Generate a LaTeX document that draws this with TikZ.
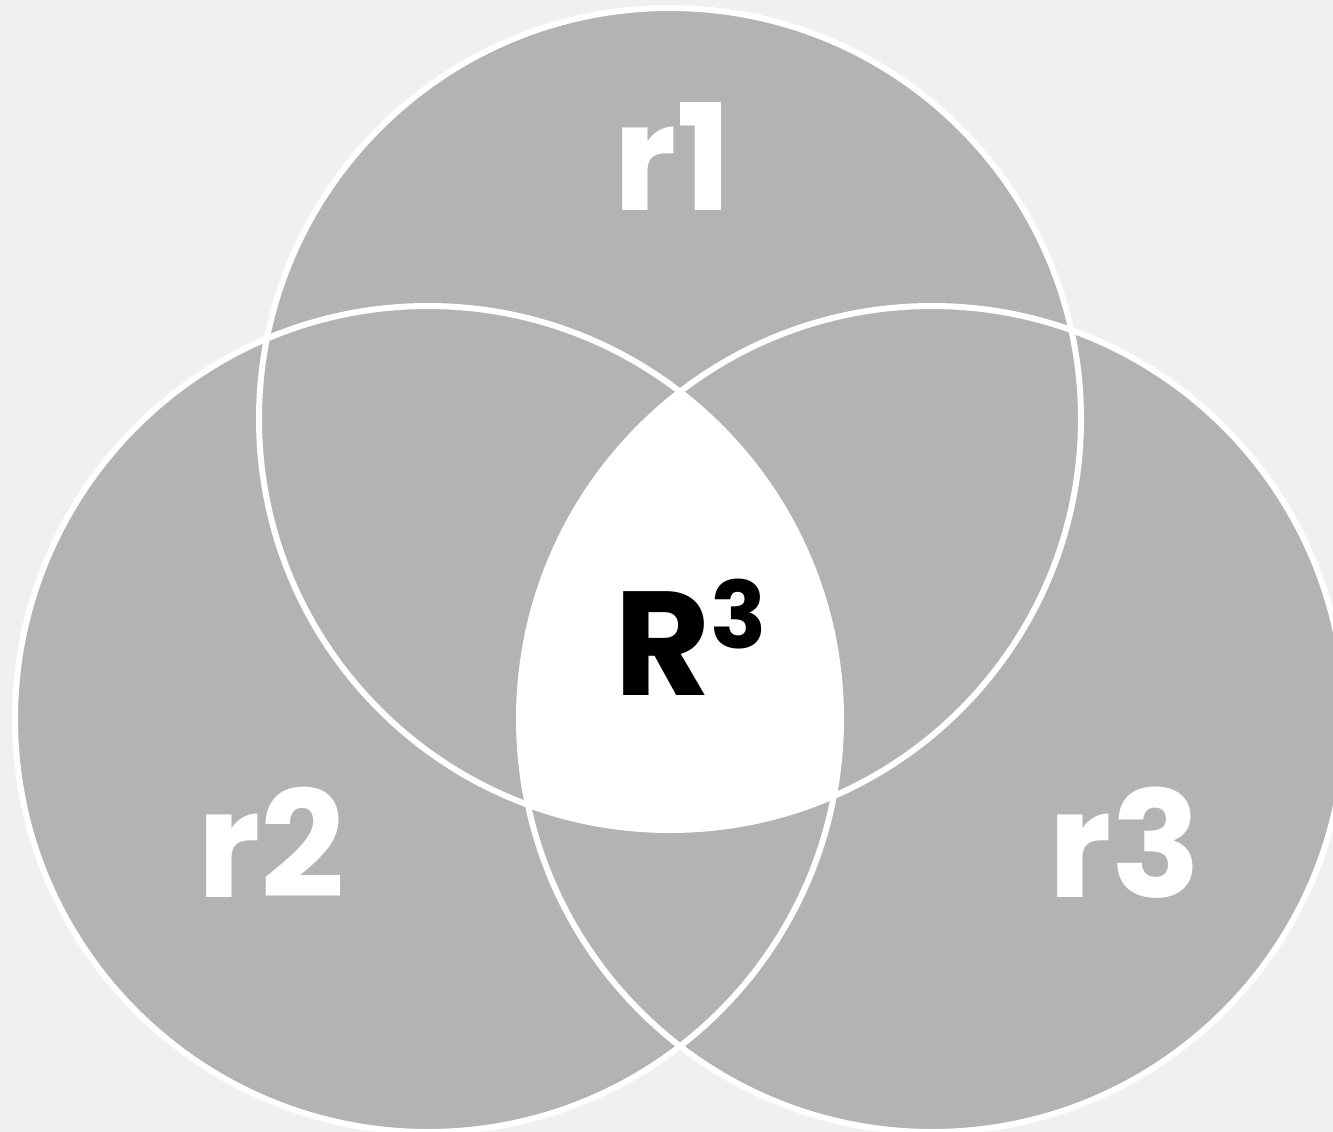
\documentclass[tikz,border=0pt]{standalone}
\usepackage{fontspec}
\setmainfont{Poppins}[BoldFont={* Bold}]
\definecolor{bg}{HTML}{EFF1EE}
\definecolor{setgrey}{HTML}{B3B3B3}
\begin{document}
\begin{tikzpicture}[x=1pt,y=-1pt,
  setfill/.style={fill=setgrey},
  setline/.style={draw=white,line width=6pt},
  lbl/.style={text=white,font=\fontsize{148}{148}\selectfont\bfseries,inner sep=0pt,anchor=base}]
\fill[bg] (0,0) rectangle (1333,1132);
\useasboundingbox (0,0) rectangle (1333,1132);
\coordinate (c1) at (670,419);
\coordinate (c2) at (428,719);
\coordinate (c3) at (932,719);
\fill[setfill] (c1) circle[radius=411pt];
\fill[setfill] (c2) circle[radius=413pt];
\fill[setfill] (c3) circle[radius=413pt];
\begin{scope}
  \clip (c1) circle[radius=411pt];
  \clip (c2) circle[radius=413pt];
  \fill[white] (c3) circle[radius=413pt];
\end{scope}
\draw[setline] (c1) circle[radius=411pt];
\draw[setline] (c2) circle[radius=413pt];
\draw[setline] (c3) circle[radius=413pt];
\node[lbl] (r1) at (673,210) {r1};
\node[lbl] (r2) at (271,897) {r2};
\node[lbl] (r3) at (1125,897) {r3};
\node[lbl,text=black,anchor=base west] (R) at (614,695) {R\raisebox{47pt}{\fontsize{93}{93}\selectfont 3}};
\end{tikzpicture}
\end{document}
